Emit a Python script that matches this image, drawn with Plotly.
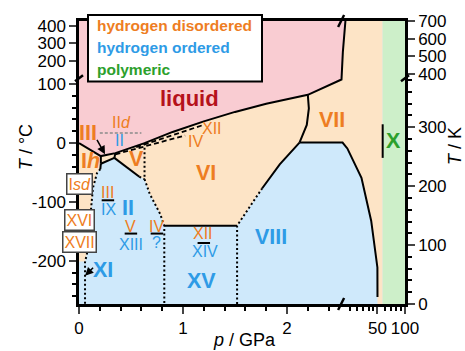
import numpy as np
import plotly.graph_objects as go

# ---- broken-axis geometry ---------------------------------------------------
P_LIN_END = 2.52      # GPa: linear pressure segment ends here
P_LOG_START = 20.0    # GPa: logarithmic segment starts at the break
LOG_UNITS = 0.879     # axis units per decade on the log segment
T_BREAK = 387.0       # K: linear temperature segment ends here
T_SQUEEZE = 0.298     # compression of the temperature scale above the break


def xp(p):
    a = np.atleast_1d(np.asarray(p, dtype=float))
    out = np.where(a <= P_LIN_END, a,
                   P_LIN_END + LOG_UNITS * np.log10(np.clip(a, 1e-9, None) / P_LOG_START))
    return float(out[0]) if np.ndim(p) == 0 else out


def yt(T):
    a = np.atleast_1d(np.asarray(T, dtype=float))
    out = np.where(a <= T_BREAK, a, T_BREAK + (a - T_BREAK) * T_SQUEEZE)
    return float(out[0]) if np.ndim(T) == 0 else out


X_MAX = xp(100.0)
Y_MAX = yt(700.0)

# ---- phase boundaries (p in GPa, T in K) ------------------------------------
melt_p = [0.0, 0.21, 0.35, 0.63, 0.9, 1.2, 1.5, 1.8, 2.2, 20.2, 20.9, 22.3]
melt_T = [273, 251, 256, 273, 292, 310, 326, 340, 355, 381, 523, 700]

ordered_p = [0.0, 0.058, 0.077, 0.106, 0.134, 0.173, 0.205, 0.21, 0.34, 0.58, 0.63,
             0.68, 0.78, 0.82, 1.52, 1.76, 1.93, 2.12, 20.74, 23.4, 33.4, 42.7, 49.9, 50.0]
ordered_T = [72, 72, 86, 141, 197, 222, 232, 238, 248, 216, 212,
             187, 153, 133, 133, 196, 237, 274, 274, 264, 214, 141, 62, 0]

polymeric_p = 57.0

solid_lines = [
    ([0.21, 0.21], [251, 238]),                       # Ih / III
    ([0.35, 0.34], [256, 248]),                       # III / V
    ([0.21, 0.34], [238, 248]),                       # II / III
    ([0.34, 0.58], [248, 216]),                       # II / V
    ([0.21, 0.205], [238, 229]),                      # Ih / II
    ([0.82, 1.52], [133, 133]),                       # VI / XV
    ([1.76, 1.93, 2.12], [196, 237, 274]),            # VI / VIII
    ([2.2, 2.21, 2.19, 2.15, 2.12], [355, 332, 304, 285, 274]),   # VI / VII
    ([2.12, 20.74, 23.4, 33.4, 42.7, 49.9, 50.0], [274, 274, 264, 214, 141, 62, 12]),  # VII / VIII
    ([polymeric_p, polymeric_p], [248, 305]),         # VII / X
]
dotted_lines = [
    ([0.205, 0.173, 0.134, 0.106, 0.077, 0.058, 0.058], [229, 222, 197, 141, 86, 71, 0]),
    ([0.58, 0.63], [216, 212]),
    ([0.63, 0.63], [273, 212]),
    ([0.63, 0.68, 0.78, 0.82, 0.82], [212, 187, 153, 133, 0]),
    ([1.52, 1.52, 1.76], [0, 133, 196]),
]
dashed_lines = [
    ([0.35, 1.02], [254, 286]),     # metastable IV
    ([0.55, 1.18], [266, 303]),     # metastable XII
]
iid_p = [0.2, 0.6]
iid_T = [290, 290]

# ---- colours ----------------------------------------------------------------
C_ORD = "#cfe9fb"
C_DIS = "#fde4c6"
C_LIQ = "#f9ccd2"
C_POL = "#cdefc9"
T_ORANGE = "#ee7d22"
T_BLUE = "#2e9be6"
T_GREEN = "#2ca02c"
T_LIQ = "#b5121b"
FONT = "Liberation Sans, Arial, sans-serif"

fig = go.Figure()


def area(px_, ty_, color):
    fig.add_trace(go.Scatter(x=xp(px_), y=yt(ty_), fill="toself", fillcolor=color,
                             mode="lines", line=dict(width=0), hoverinfo="skip",
                             showlegend=False))


# hydrogen-disordered ices
area(ordered_p + [polymeric_p, polymeric_p, 0.0],
     ordered_T + [0, 700, 700], C_DIS)
# liquid
area(melt_p + [0.0], melt_T + [700], C_LIQ)
# polymeric ice
area([polymeric_p, 100, 100, polymeric_p], [0, 0, 700, 700], C_POL)


def line(p, T, dash="solid", color="black", width=2.0):
    fig.add_trace(go.Scatter(x=xp(p), y=yt(T), mode="lines",
                             line=dict(color=color, width=width, dash=dash),
                             hoverinfo="skip", showlegend=False))


line(melt_p, melt_T)
for p, T in solid_lines:
    line(p, T)
for p, T in dotted_lines:
    line(p, T, dash="2px,2.5px", width=2.0)
for p, T in dashed_lines:
    line(p, T, dash="5px,3px", width=1.8)
line(iid_p, iid_T, dash="3px,2px", color="#8a8a8a", width=1.5)

# ---- labels -------------------------------------------------------------------
big_labels = [
    ("liquid", 1.065, 348, T_LIQ, 22),
    ("III", 0.091, 291, T_ORANGE, 21.5),
    ("I<i>h</i>", 0.106, 242, T_ORANGE, 21.5),
    ("V", 0.55, 246, T_ORANGE, 21.5),
    ("VI", 1.22, 222, T_ORANGE, 21.5),
    ("VII", 2.43, 313, T_ORANGE, 21.5),
    ("II", 0.47, 163, T_BLUE, 21.5),
    ("VIII", 1.85, 113, T_BLUE, 21.5),
    ("XV", 1.18, 39, T_BLUE, 21.5),
    ("XI", 0.23, 57, T_BLUE, 21.5),
    ("X", 74.6, 276, T_GREEN, 21.5),
]
for txt, p, T, c, sz in big_labels:
    fig.add_annotation(x=xp(p), y=yt(T), text=f"<b>{txt}</b>", showarrow=False,
                       xanchor="center", yanchor="middle",
                       font=dict(family=FONT, size=sz, color=c))

small_labels = [
    ("III", 0.278, 189, T_ORANGE), ("IX", 0.288, 161, T_BLUE),
    ("V", 0.499, 132, T_ORANGE), ("XIII", 0.499, 101, T_BLUE),
    ("IV", 0.749, 132, T_ORANGE), ("?", 0.749, 104, T_BLUE),
    ("XII", 1.19, 120, T_ORANGE), ("XIV", 1.21, 89, T_BLUE),
    ("II<i>d</i>", 0.413, 308, T_ORANGE), ("II", 0.393, 278, T_BLUE),
    ("XII", 1.276, 298, T_ORANGE), ("IV", 1.123, 276, T_ORANGE),
]
for txt, p, T, c in small_labels:
    fig.add_annotation(x=xp(p), y=yt(T), text=txt, showarrow=False,
                       xanchor="center", yanchor="middle",
                       font=dict(family=FONT, size=16, color=c))

# short bars separating a disordered phase from its ordered counterpart
bars = [(0.278, 176), (0.499, 119.5), (0.749, 119.5), (1.20, 103.5)]
for p, T in bars:
    fig.add_shape(type="line", xref="x", yref="y", x0=xp(p) - 0.06, x1=xp(p) + 0.06,
                  y0=yt(T), y1=yt(T), line=dict(color="black", width=2))

# metastable phases on the left edge
boxed = [("I<i>sd</i>", 0.0, 204.5), ("XVI", 0.0, 143), ("XVII", 0.0, 105)]
for txt, p, T in boxed:
    fig.add_annotation(x=xp(p), y=yt(T), text=txt, showarrow=False,
                       xanchor="center", yanchor="middle",
                       font=dict(family=FONT, size=16, color=T_ORANGE),
                       bgcolor="white", bordercolor="#444", borderwidth=1.5, borderpad=1)

# arrows
fig.add_annotation(x=xp(0.25), y=yt(254), ax=xp(0.165), ay=yt(281), axref="x", ayref="y",
                   text="", showarrow=True, arrowhead=2, arrowsize=1.1, arrowwidth=1.5,
                   arrowcolor="black")
fig.add_annotation(x=xp(0.058), y=yt(48), ax=xp(0.15), ay=yt(64), axref="x", ayref="y",
                   text="", showarrow=True, arrowhead=2, arrowsize=1.1, arrowwidth=1.5,
                   arrowcolor="black")

# ---- legend box -----------------------------------------------------------------
PW, PH = 326.0, 285.0   # plot-area size in px


def pxl(dx):
    return dx / PW


def pyl(dy):
    return dy / PH


fig.add_shape(type="rect", xref="paper", yref="paper", x0=pxl(9), x1=pxl(183),
              y0=pyl(224), y1=pyl(291), fillcolor="white", line=dict(color="black", width=2))
legend_items = [("hydrogen disordered", T_ORANGE), ("hydrogen ordered", T_BLUE),
                ("polymeric", T_GREEN)]
for i, (txt, c) in enumerate(legend_items):
    fig.add_annotation(xref="paper", yref="paper", x=pxl(16), y=pyl(280 - 22 * i),
                       xanchor="left", yanchor="middle", text=f"<b>{txt}</b>",
                       showarrow=False, font=dict(family=FONT, size=15.5, color=c))

# ---- axis break marks -------------------------------------------------------------
xb = xp(P_LIN_END) / X_MAX
yb = yt(383) / Y_MAX
for yy in (0.0, 1.0):
    fig.add_shape(type="line", xref="paper", yref="paper",
                  x0=xb - pxl(3), x1=xb + pxl(3), y0=yy - pyl(6), y1=yy + pyl(6),
                  line=dict(color="black", width=2.5))
for xx in (0.0, 1.0):
    fig.add_shape(type="line", xref="paper", yref="paper",
                  x0=xx - pxl(4), x1=xx + pxl(4), y0=yb - pyl(3), y1=yb + pyl(3),
                  line=dict(color="black", width=2.5))

# ---- axes -------------------------------------------------------------------------
x_major = [0, 1, 2, 50, 100]
x_minor = [0.2, 0.4, 0.6, 0.8, 1.2, 1.4, 1.6, 1.8, 2.2, 2.4, 25, 30, 35, 40, 45, 60, 70, 80, 90]
c_major = [400, 300, 200, 100, 0, -100, -200]
c_minor = [c for c in range(-260, 100, 20) if c % 100 != 0]
k_major = [0, 100, 200, 300, 400, 500, 600, 700]
k_minor = [k for k in range(20, 381, 20) if k % 100 != 0]

tickfont = dict(family=FONT, size=17, color="black")
fig.update_layout(
    width=465, height=351, margin=dict(l=79, r=60, t=19, b=47),
    paper_bgcolor="white", plot_bgcolor=C_ORD, showlegend=False,
    xaxis=dict(range=[0, X_MAX], tickmode="array", tickvals=list(xp(x_major)),
               ticktext=[str(v) for v in x_major], ticks="outside", ticklen=7, tickwidth=2,
               showline=True, linewidth=2.5, linecolor="black", mirror=True,
               showgrid=False, zeroline=False, tickfont=tickfont,
               minor=dict(tickmode="array", tickvals=list(xp(x_minor)), ticks="outside",
                          ticklen=4, tickwidth=2, tickcolor="black", showgrid=False)),
    yaxis=dict(range=[0, Y_MAX], tickmode="array",
               tickvals=list(yt(np.array(c_major) + 273.15)),
               ticktext=[str(v) for v in c_major], ticks="outside", ticklen=7, tickwidth=2,
               showline=True, linewidth=2.5, linecolor="black",
               showgrid=False, zeroline=False, tickfont=tickfont,
               minor=dict(tickmode="array", tickvals=list(yt(np.array(c_minor) + 273.15)),
                          ticks="outside", ticklen=4, tickwidth=2, tickcolor="black",
                          showgrid=False)),
    yaxis2=dict(range=[0, Y_MAX], overlaying="y", side="right", tickmode="array",
                tickvals=list(yt(k_major)), ticktext=[str(v) for v in k_major],
                ticks="outside", ticklen=7, tickwidth=2,
                showline=True, linewidth=2.5, linecolor="black",
                showgrid=False, zeroline=False, tickfont=tickfont,
                minor=dict(tickmode="array", tickvals=list(yt(k_minor)), ticks="outside",
                           ticklen=4, tickwidth=2, tickcolor="black", showgrid=False)),
)
# invisible trace that activates the right-hand axis
fig.add_trace(go.Scatter(x=[0], y=[0], yaxis="y2", mode="markers",
                         marker=dict(opacity=0), hoverinfo="skip", showlegend=False))

# axis titles
title_font = dict(family=FONT, size=18, color="black")
fig.add_annotation(xref="paper", yref="paper", x=pxl(166), y=pyl(-36), text="<i>p</i> / GPa",
                   xanchor="center", yanchor="middle", showarrow=False, font=title_font)
fig.add_annotation(xref="paper", yref="paper", x=pxl(-53), y=pyl(158), text="<i>T</i> / °C",
                   xanchor="center", yanchor="middle", textangle=-90, showarrow=False,
                   font=title_font)
fig.add_annotation(xref="paper", yref="paper", x=pxl(376), y=pyl(159), text="<i>T</i> / K",
                   xanchor="center", yanchor="middle", textangle=-90, showarrow=False,
                   font=title_font)

fig.write_html("out.html")
